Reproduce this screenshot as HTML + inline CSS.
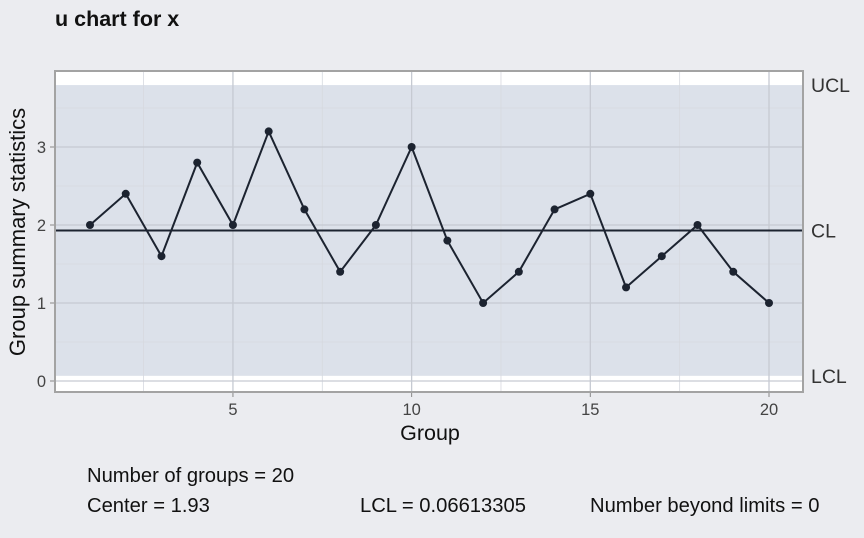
<!DOCTYPE html>
<html><head><meta charset="utf-8"><style>
body{margin:0;background:#ebecf0;font-family:"Liberation Sans",sans-serif;}
svg text{font-family:"Liberation Sans",sans-serif;}
</style></head><body>
<svg width="864" height="533">
<rect width="864" height="533" fill="#ebecf0"/>
<text x="55" y="26" font-size="21.5" font-weight="bold" fill="#111">u chart for x</text>
<g id="plot"></g>
<text x="430" y="440" font-size="21.5" text-anchor="middle" fill="#111">Group</text>
<text transform="translate(25,232) rotate(-90)" font-size="22" text-anchor="middle" fill="#111">Group summary statistics</text>
<g font-size="20.2" fill="#111">
<text x="87" y="482">Number of groups = 20</text>
<text x="87" y="512">Center = 1.93</text>
<text x="360" y="512">LCL = 0.06613305</text>
<text x="590" y="512">Number beyond limits = 0</text>
</g>
</svg>
<script>
const groups=[1,2,3,4,5,6,7,8,9,10,11,12,13,14,15,16,17,18,19,20];
const values=[2,2.4,1.6,2.8,2,3.2,2.2,1.4,2,3,1.8,1,1.4,2.2,2.4,1.2,1.6,2,1.4,1];
const center=1.93;
const ucl=3.79386695;
const lcl=0.06613305;
const xTicks=[5,10,15,20];
const yTicks=[0,1,2,3];
const NS='http://www.w3.org/2000/svg';
const g=document.getElementById('plot');
const X=v=>90+(v-1)*(769-90)/19;
const Y=v=>381-v*78;
const L=55,R=803,T=71,B=392;
function mk(t,a,p){const e=document.createElementNS(NS,t);for(const k in a)e.setAttribute(k,a[k]);(p||g).appendChild(e);return e;}
let e=mk('rect',{x:L,y:T,width:R-L,height:B-T,fill:'#fff'});


e=mk('rect',{x:L,y:Y(ucl),width:R-L,height:Y(lcl)-Y(ucl),fill:'#dce1ea'});


for(let v=2.5;v<=22;v+=5){e=mk('line',{x1:X(v),x2:X(v),y1:T,y2:B,stroke:'#d6d9df','stroke-width':0.8});

}
for(let v=0.5;v<4;v+=1){e=mk('line',{x1:L,x2:R,y1:Y(v),y2:Y(v),stroke:'#d6d9df','stroke-width':0.8});

}
xTicks.forEach(t=>{e=mk('line',{x1:X(t),x2:X(t),y1:T,y2:B,stroke:'#c6cad2','stroke-width':1.3});


mk('line',{x1:X(t),x2:X(t),y1:B,y2:B+5,stroke:'#888'});
e=mk('text',{x:X(t),y:B+23,'font-size':16.5,'text-anchor':'middle',fill:'#444'});e.textContent=t;

});
yTicks.forEach(t=>{e=mk('line',{x1:L,x2:R,y1:Y(t),y2:Y(t),stroke:'#c6cad2','stroke-width':1.3});


mk('line',{x1:L-5,x2:L,y1:Y(t),y2:Y(t),stroke:'#888'});
e=mk('text',{x:L-9,y:Y(t)+6,'font-size':16.5,'text-anchor':'end',fill:'#444'});e.textContent=t;

});
e=mk('line',{x1:L,x2:R,y1:Y(center),y2:Y(center),stroke:'#1c2330','stroke-width':2});


[['UCL',ucl],['CL',center],['LCL',lcl]].forEach(([n,v])=>{e=mk('text',{x:R+8,y:Y(v)+7,'font-size':19.5,fill:'#333'});e.textContent=n;

});
e=mk('polyline',{points:groups.map((gr,i)=>X(gr)+','+Y(values[i])).join(' '),fill:'none',stroke:'#1c2330','stroke-width':2});


groups.forEach((gr,i)=>{e=mk('circle',{cx:X(gr),cy:Y(values[i]),r:4,fill:'#1c2330'});

});
e=mk('rect',{x:L,y:T,width:R-L,height:B-T,fill:'none',stroke:'#a3a3a3','stroke-width':2});


</script>
</body></html>
